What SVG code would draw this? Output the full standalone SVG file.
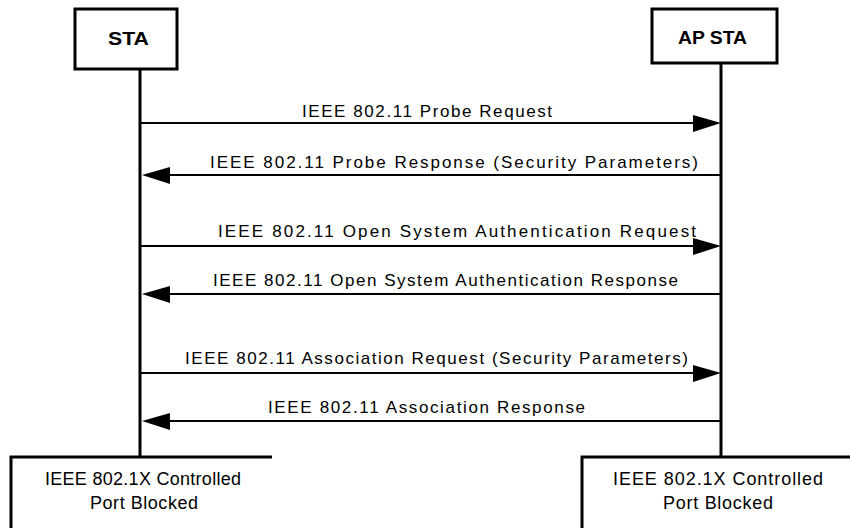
<svg xmlns="http://www.w3.org/2000/svg" width="850" height="528" viewBox="0 0 850 528">
  <style>
    .box { fill: #ffffff; stroke: #000000; stroke-width: 3; }
    .frame { fill: none; stroke: #000000; stroke-width: 3; }
    .life { stroke: #000000; stroke-width: 3; fill: none; }
    .msg { stroke: #000000; stroke-width: 2; fill: none; }
    .head { fill: #000000; stroke: none; }
    .title { font-family: "Liberation Sans", Arial, sans-serif; font-weight: bold; font-size: 18px; fill: #000000; }
    .label { font-family: "Liberation Sans", Arial, sans-serif; font-size: 17px; fill: #000000; }
    .state { font-family: "Liberation Sans", Arial, sans-serif; font-size: 18px; fill: #000000; }
  </style>

  <!-- lifelines -->
  <g id="lifelines">
    <line class="life" x1="140" y1="69" x2="140" y2="457"/>
    <line class="life" x1="721" y1="63" x2="721" y2="457"/>
  </g>

  <!-- participants -->
  <g id="sta">
    <rect class="box" x="75" y="9" width="102" height="60"/>
    <text class="title" x="108" y="45" textLength="41" lengthAdjust="spacingAndGlyphs">STA</text>
  </g>
  <g id="ap-sta">
    <rect class="box" x="652" y="9" width="125" height="54"/>
    <text class="title" x="678" y="44" textLength="69" lengthAdjust="spacingAndGlyphs">AP STA</text>
  </g>

  <!-- message arrows -->
  <g id="connectors">
    <line class="msg" x1="140" y1="123" x2="695" y2="123"/>
    <polygon class="head" points="721,123 693,115 693,132"/>
    <text class="label" x="302" y="117" textLength="250" lengthAdjust="spacing">IEEE 802.11 Probe Request</text>

    <line class="msg" x1="721" y1="175" x2="168" y2="175"/>
    <polygon class="head" points="142,175 170,167 170,184"/>
    <text class="label" x="210" y="168" textLength="488" lengthAdjust="spacing">IEEE 802.11 Probe Response (Security Parameters)</text>

    <line class="msg" x1="140" y1="246" x2="695" y2="246"/>
    <polygon class="head" points="721,246 693,238 693,255"/>
    <text class="label" x="218" y="237" textLength="478" lengthAdjust="spacing">IEEE 802.11 Open System Authentication Request</text>

    <line class="msg" x1="721" y1="294" x2="168" y2="294"/>
    <polygon class="head" points="142,294 170,286 170,303"/>
    <text class="label" x="213" y="286" textLength="465" lengthAdjust="spacing">IEEE 802.11 Open System Authentication Response</text>

    <line class="msg" x1="140" y1="373" x2="695" y2="373"/>
    <polygon class="head" points="721,373 693,365 693,382"/>
    <text class="label" x="185" y="364" textLength="503" lengthAdjust="spacing">IEEE 802.11 Association Request (Security Parameters)</text>

    <line class="msg" x1="721" y1="421" x2="168" y2="421"/>
    <polygon class="head" points="142,421 170,413 170,430"/>
    <text class="label" x="268" y="413" textLength="317" lengthAdjust="spacing">IEEE 802.11 Association Response</text>
  </g>

  <!-- port state boxes -->
  <g id="sta-port">
    <path class="frame" d="M11,528 V457 H272"/>
    <text class="state" x="45" y="485" textLength="196" lengthAdjust="spacing">IEEE 802.1X Controlled</text>
    <text class="state" x="90" y="509" textLength="108" lengthAdjust="spacing">Port Blocked</text>
  </g>
  <g id="ap-port">
    <path class="frame" d="M582,528 V457 H852"/>
    <text class="state" x="613" y="485" textLength="210" lengthAdjust="spacing">IEEE 802.1X Controlled</text>
    <text class="state" x="663" y="509" textLength="110" lengthAdjust="spacing">Port Blocked</text>
  </g>
</svg>
